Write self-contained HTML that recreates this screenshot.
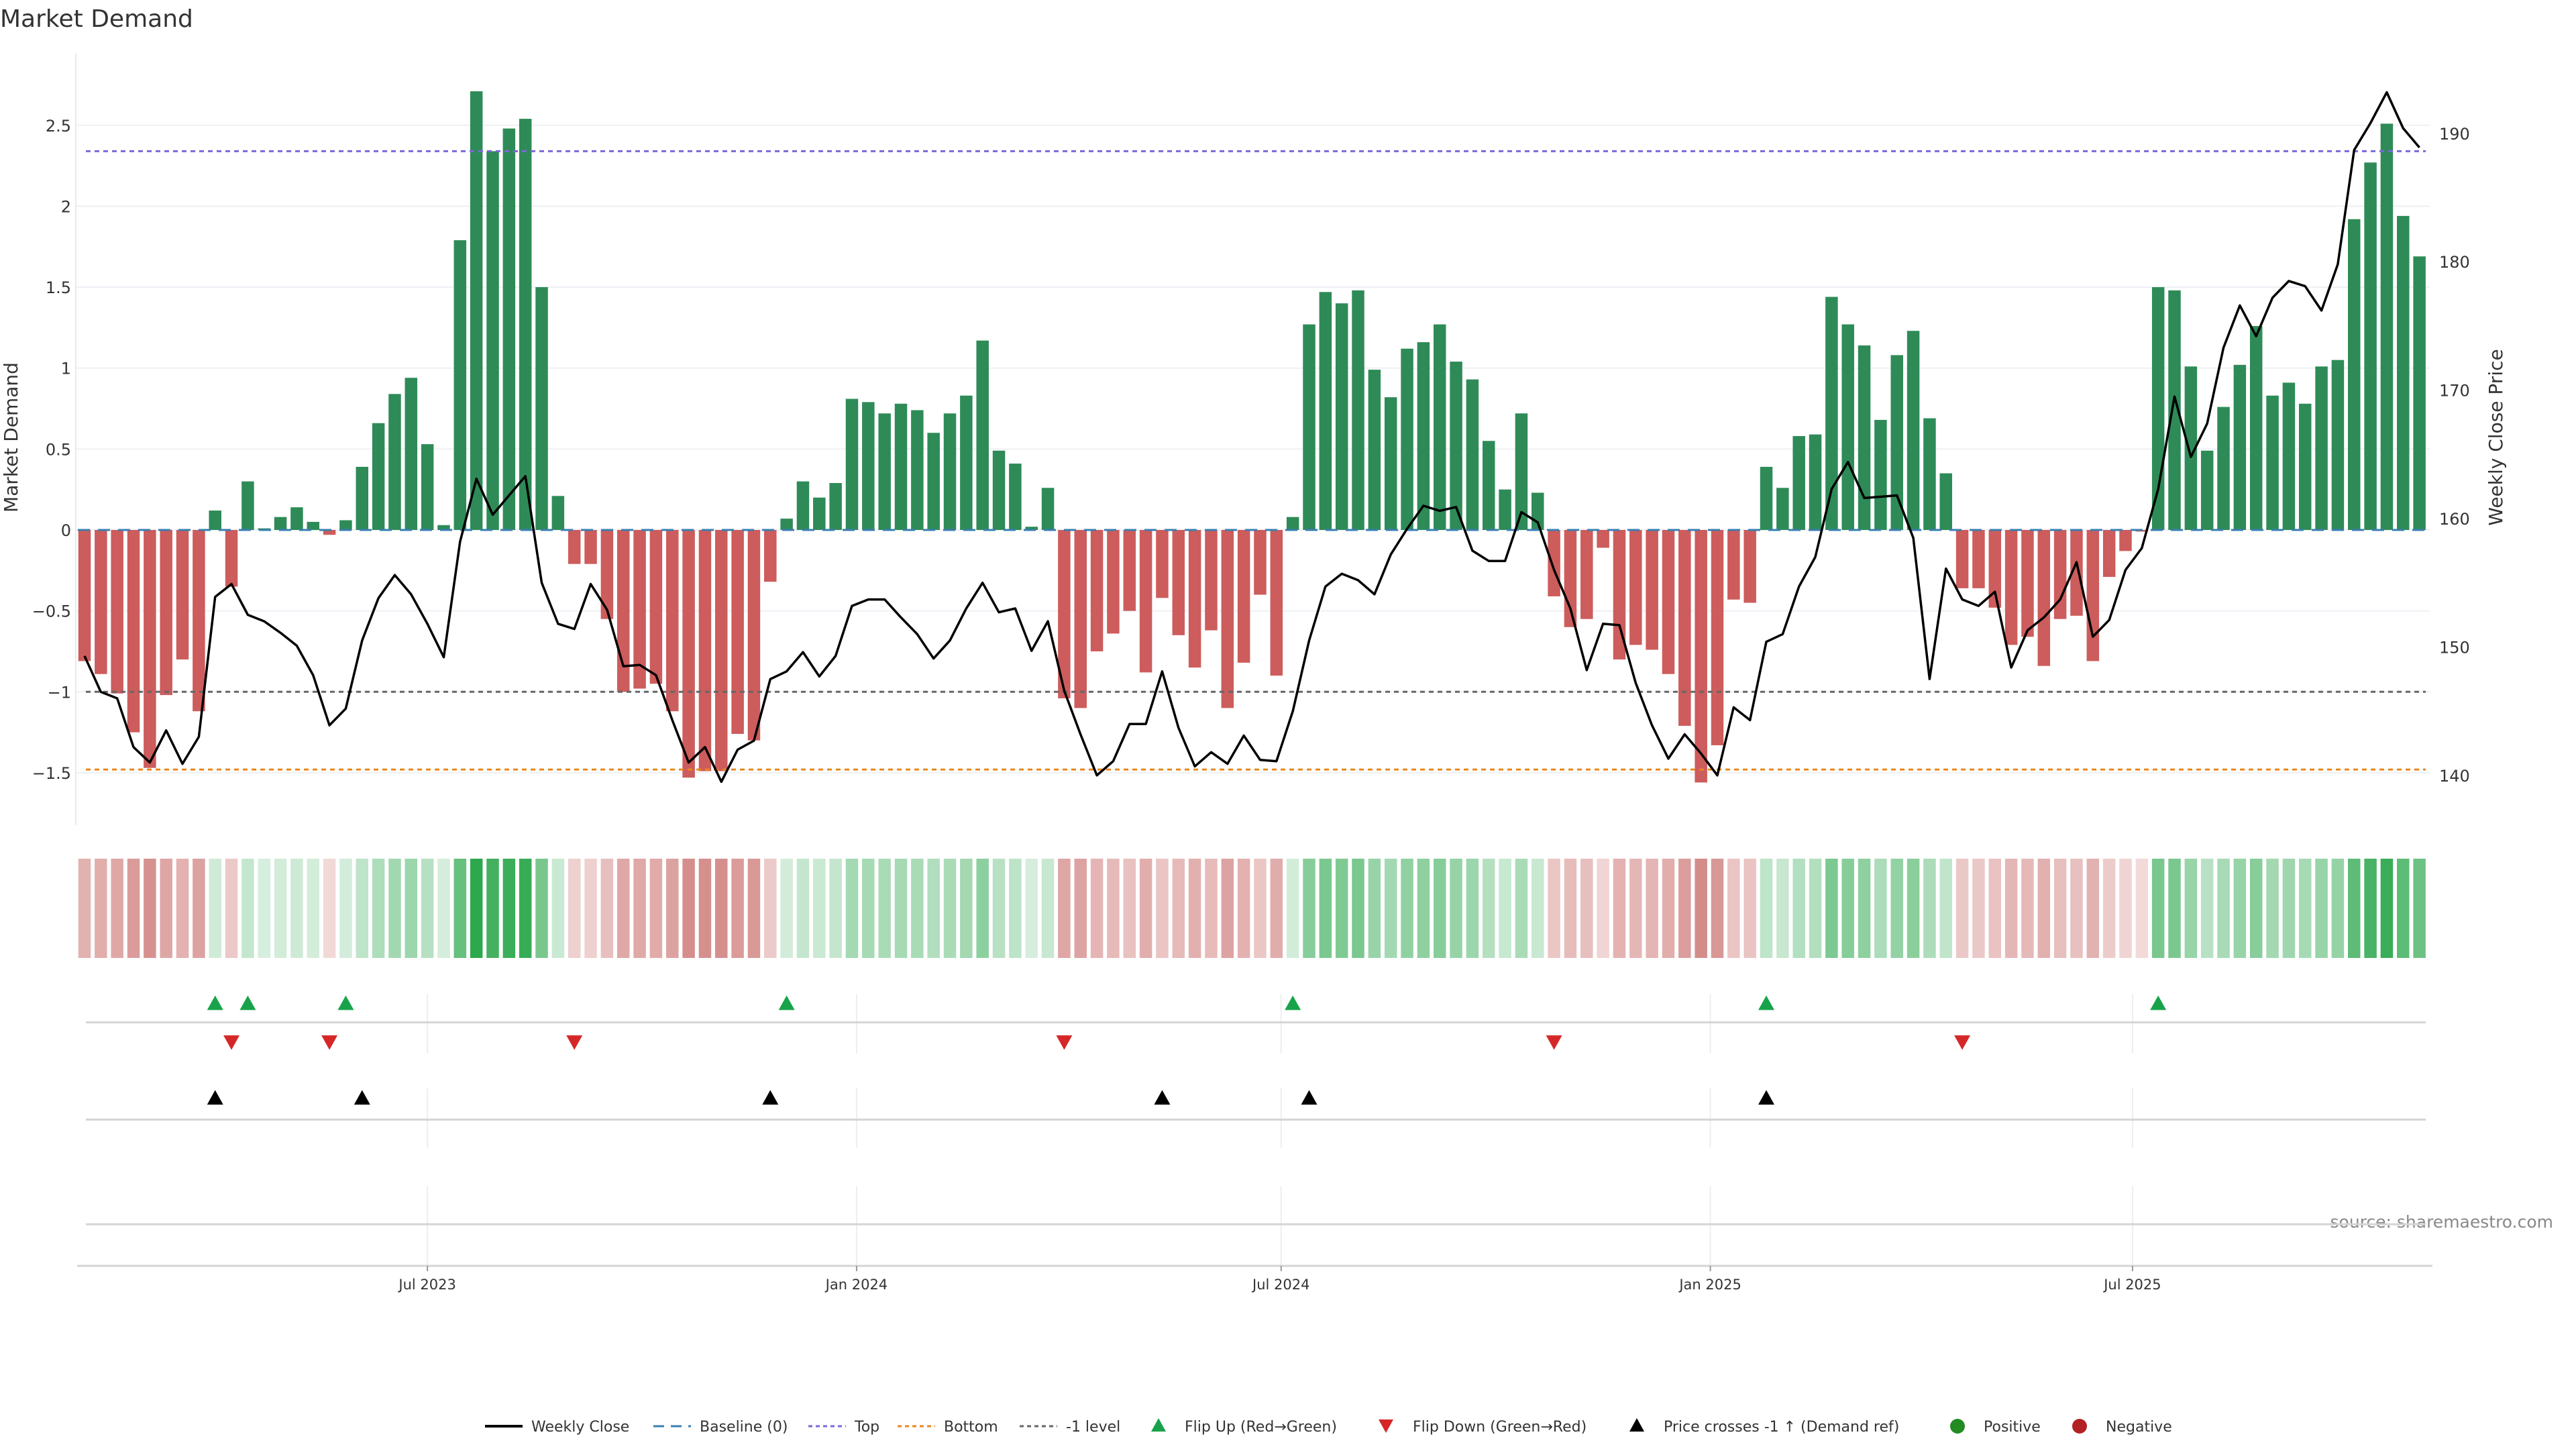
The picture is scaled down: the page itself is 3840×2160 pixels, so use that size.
<!DOCTYPE html>
<html><head><meta charset="utf-8"><title>Market Demand</title>
<style>
html,body{margin:0;padding:0;background:#fff;}
svg{display:block;font-family:"DejaVu Sans","Liberation Sans",sans-serif;}
</style></head>
<body>
<svg id="chart" xmlns="http://www.w3.org/2000/svg" width="3840" height="2160" viewBox="0 0 3840 2160">
<rect x="0" y="0" width="3840" height="2160" fill="#fff"/>
<text x="0" y="40" font-size="36" fill="#333">Market Demand</text>
<text transform="translate(26,652) rotate(-90)" text-anchor="middle" font-size="28" fill="#333">Market Demand</text>
<text transform="translate(3730,652) rotate(-90)" text-anchor="middle" font-size="28" fill="#333">Weekly Close Price</text>
<text x="3806" y="1830" text-anchor="end" font-size="25" fill="#888">source: sharemaestro.com</text>
<g id="grid"></g>
<g id="bars"></g>
<g id="refs"></g>
<g id="line"></g>
<g id="heat"></g>
<g id="events"></g>
<g id="xaxis"></g>
<g id="legend"></g>
</svg>
<script>
const demand = [-0.81,-0.89,-1.01,-1.25,-1.47,-1.02,-0.80,-1.12,0.12,-0.35,0.30,0.01,0.08,0.14,0.05,-0.03,0.06,0.39,0.66,0.84,0.94,0.53,0.03,1.79,2.71,2.34,2.48,2.54,1.50,0.21,-0.21,-0.21,-0.55,-1.00,-0.98,-0.95,-1.12,-1.53,-1.49,-1.49,-1.26,-1.30,-0.32,
0.07,0.30,0.20,0.29,0.81,0.79,0.72,0.78,0.74,0.60,0.72,0.83,1.17,0.49,0.41,0.02,0.26,
-1.04,-1.10,-0.75,-0.64,-0.50,-0.88,-0.42,-0.65,-0.85,-0.62,-1.10,-0.82,-0.40,-0.90,
0.08,1.27,1.47,1.40,1.48,0.99,0.82,1.12,1.16,1.27,1.04,0.93,0.55,0.25,0.72,0.23,
-0.41,-0.60,-0.55,-0.11,-0.80,-0.71,-0.74,-0.89,-1.21,-1.56,-1.33,-0.43,-0.45,
0.39,0.26,0.58,0.59,1.44,1.27,1.14,0.68,1.08,1.23,0.69,0.35,
-0.36,-0.36,-0.48,-0.71,-0.66,-0.84,-0.55,-0.53,-0.81,-0.29,-0.13,-0.01,
1.50,1.48,1.01,0.49,0.76,1.02,1.26,0.83,0.91,0.78,1.01,1.05,1.92,2.27,2.51,1.94,1.69];
const price = [149.3,146.5,146.0,142.2,141.0,143.5,140.9,143.0,153.9,154.9,152.5,152.0,151.1,150.1,147.8,143.9,145.2,150.5,153.8,155.6,154.1,151.8,149.2,158.2,163.1,160.3,161.8,163.3,155.0,151.8,151.4,154.9,152.9,148.5,148.6,147.8,144.3,141.0,142.2,
139.5,142.0,142.7,147.5,148.1,149.6,147.7,149.3,153.2,153.7,153.7,152.3,151.0,149.1,150.5,153.0,155.0,152.7,153.0,149.7,152.0,146.6,143.2,140.0,141.1,144.0,144.0,148.1,143.7,140.7,141.8,140.9,143.1,141.2,141.1,145.0,150.5,154.7,155.7,
155.2,154.1,157.2,159.2,161.0,160.6,160.9,157.5,156.7,156.7,160.5,159.7,156.0,153.0,148.2,151.8,151.7,147.2,143.9,141.3,143.2,141.7,140.0,145.3,144.3,150.4,151.0,154.7,157.0,162.3,164.4,161.6,161.7,161.8,158.5,147.5,156.1,153.7,
153.2,154.3,148.4,151.3,152.3,153.7,156.6,150.8,152.1,156.0,157.7,162.3,169.5,164.8,167.4,173.3,176.6,174.2,177.2,178.5,178.1,176.2,179.8,188.7,190.8,193.2,190.4,188.9];
const leftTicks = [-1.5,-1,-0.5,0,0.5,1,1.5,2,2.5];
const leftTickLabels = ["\u22121.5","\u22121","\u22120.5","0","0.5","1","1.5","2","2.5"];
const rightTicks = [140,150,160,170,180,190];
const topLevel = 2.34;
const bottomLevel = -1.48;
const minusOneLevel = -1;
const crossPrice = 146.5;
const startDate = "2023-02-04";
const xTickDates = ["2023-07-01","2024-01-01","2024-07-01","2025-01-01","2025-07-01"];
const xTickLabels = ["Jul 2023","Jan 2024","Jul 2024","Jan 2025","Jul 2025"];

const NS="http://www.w3.org/2000/svg";
function mk(tag, attrs, parent){const e=document.createElementNS(NS,tag);for(const k in attrs)e.setAttribute(k,attrs[k]);parent.appendChild(e);return e;}
const X0=126, STEP=24.34, BW=18.5;
function xi(i){return X0+i*STEP;}
function yD(v){return 790-v*241.3;}
function yP(p){return 773-(p-160)*19.14;}
function xDate(s){const d=(new Date(s+"T00:00:00Z")-new Date(startDate+"T00:00:00Z"))/86400000;return X0+d*STEP/7;}
const L=113, R=3622;

const grid=document.getElementById('grid');
leftTicks.forEach((t,k)=>{
  const g=mk('line',{x1:L,x2:R,y1:yD(t),y2:yD(t),stroke:'#eef0f4','stroke-width':2},grid);
  
  
  const tx=mk('text',{x:106,y:yD(t)+9,'text-anchor':'end','font-size':24,fill:'#333'},grid);
  tx.textContent=leftTickLabels[k];
  
  
});
rightTicks.forEach(t=>{
  const tx=mk('text',{x:3636,y:yP(t)+9,'font-size':24,fill:'#333'},grid);
  tx.textContent=String(t);
  
  
});
const ax=mk('line',{x1:L,x2:L,y1:79,y2:1230,stroke:'#e8eaef','stroke-width':2},grid);



const bars=document.getElementById('bars');
demand.forEach((v,i)=>{
  const y=Math.min(yD(v),yD(0)), h=Math.abs(yD(v)-yD(0));
  const r=mk('rect',{x:xi(i)-BW/2,y:y,width:BW,height:Math.max(h,0.5),fill:v>=0?'#2e8b57':'#cd5c5c'},bars);
  
  
});

const refs=document.getElementById('refs');
const b0=mk('line',{x1:xi(0)-10,x2:xi(demand.length-1)+10,y1:yD(0),y2:yD(0),stroke:'#3a7fb0','stroke-width':3,'stroke-dasharray':'18 12'},refs);


const tl=mk('line',{x1:128,x2:3616,y1:yD(topLevel),y2:yD(topLevel),stroke:'#7b68d8','stroke-width':3,'stroke-dasharray':'7 6'},refs);


const ml=mk('line',{x1:128,x2:3616,y1:yD(minusOneLevel),y2:yD(minusOneLevel),stroke:'#666','stroke-width':3,'stroke-dasharray':'7 6'},refs);


const bl=mk('line',{x1:128,x2:3616,y1:yD(bottomLevel),y2:yD(bottomLevel),stroke:'#e8871e','stroke-width':3,'stroke-dasharray':'7 6'},refs);



const lineG=document.getElementById('line');
const pl=mk('polyline',{points:price.map((p,i)=>xi(i).toFixed(1)+','+yP(p).toFixed(1)).join(' '),fill:'none',stroke:'#000','stroke-width':3.5,'stroke-linejoin':'round'},lineG);



const heat=document.getElementById('heat');
function heatColor(v){
  if(v>=0){const t=Math.min(v/2.7,1);return `rgb(${Math.round(215-t*170)},${Math.round(238-t*70)},${Math.round(222-t*145)})`;}
  const t=Math.min(-v/1.56,1);return `rgb(${Math.round(242-t*30)},${Math.round(218-t*78)},${Math.round(218-t*80)})`;
}
demand.forEach((v,i)=>{
  const r=mk('rect',{x:xi(i)-BW/2,y:1280,width:BW,height:148,fill:heatColor(v)},heat);
  
  
});

const ev=document.getElementById('events');
xTickDates.forEach(d=>{
  const x=xDate(d);
  [[1482,1570],[1622,1711],[1768,1886]].forEach(r=>{
    const g=mk('line',{x1:x,x2:x,y1:r[0],y2:r[1],stroke:'#eceef2','stroke-width':2},ev);
    
    
  });
});
[1524,1669,1825].forEach(y=>{
  const h=mk('line',{x1:128,x2:3616,y1:y,y2:y,stroke:'#d4d4d4','stroke-width':3},ev);
  
  
});
function tri(x,y,up,color,name){
  const s=12;
  const pts=up?`${x},${y-s} ${x-s},${y+s*0.8} ${x+s},${y+s*0.8}`:`${x},${y+s} ${x-s},${y-s*0.8} ${x+s},${y-s*0.8}`;
  const p=mk('polygon',{points:pts,fill:color},ev);
  
  
}
for(let i=1;i<demand.length;i++){
  if(demand[i-1]<0&&demand[i]>=0) tri(xi(i),1496,true,'#18a34a','flip-up-marker');
  if(demand[i-1]>=0&&demand[i]<0) tri(xi(i),1553,false,'#d62728','flip-down-marker');
  if(price[i-1]<crossPrice&&price[i]>=crossPrice) tri(xi(i),1637,true,'#000','price-cross-marker');
}

const xa=document.getElementById('xaxis');
const xl=mk('line',{x1:115,x2:3626,y1:1887,y2:1887,stroke:'#d4d4d4','stroke-width':3},xa);


xTickDates.forEach((d,k)=>{
  const x=xDate(d);
  const tk=mk('line',{x1:x,x2:x,y1:1887,y2:1895,stroke:'#999','stroke-width':2},xa);
  
  
  const t=mk('text',{x:x,y:1922,'text-anchor':'middle','font-size':21,fill:'#333'},xa);
  t.textContent=xTickLabels[k];
  
  
});

const lg=document.getElementById('legend');
const LY=2126;
function ltext(x,s){const t=mk('text',{x:x,y:LY+8,'font-size':22,fill:'#333'},lg);t.textContent=s;}
function lline(x,color,dash,name){const l=mk('line',{x1:x,x2:x+56,y1:LY,y2:LY,stroke:color,'stroke-width':dash?3:4,'stroke-dasharray':dash||'none'},lg);}
lline(723,'#000',null,'legend-weekly-close'); ltext(792,'Weekly Close');
lline(974,'#3a7fb0','16 10','legend-baseline'); ltext(1043,'Baseline (0)');
lline(1205,'#7b68d8','6 5','legend-top'); ltext(1274,'Top');
lline(1338,'#e8871e','6 5','legend-bottom'); ltext(1407,'Bottom');
lline(1520,'#666','6 5','legend-minus-one'); ltext(1589,'-1 level');
function lmark(x,shape,color,name){
  let e;
  if(shape==='up') e=mk('polygon',{points:`${x},${LY-12} ${x-11},${LY+8} ${x+11},${LY+8}`,fill:color},lg);
  else if(shape==='down') e=mk('polygon',{points:`${x},${LY+10} ${x-11},${LY-10} ${x+11},${LY-10}`,fill:color},lg);
  else e=mk('circle',{cx:x,cy:LY,r:11,fill:color},lg);
  
  
}
lmark(1727,'up','#18a34a','legend-flip-up'); ltext(1766,'Flip Up (Red\u2192Green)');
lmark(2066,'down','#d62728','legend-flip-down'); ltext(2106,'Flip Down (Green\u2192Red)');
lmark(2440,'up','#000','legend-price-cross'); ltext(2480,'Price crosses -1 \u2191 (Demand ref)');
lmark(2918,'circle','#228b22','legend-positive'); ltext(2957,'Positive');
lmark(3100,'circle','#b22222','legend-negative'); ltext(3139,'Negative');
</script>
</body></html>
